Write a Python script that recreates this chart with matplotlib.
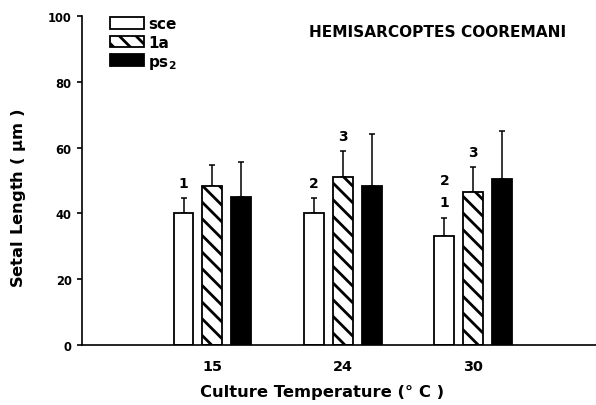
import numpy as np
import matplotlib
matplotlib.use("Agg")
import matplotlib.pyplot as plt

plt.rcParams["font.family"] = "DejaVu Sans"
plt.rcParams["font.weight"] = "bold"
plt.rcParams["mathtext.default"] = "bf"
plt.rcParams["hatch.linewidth"] = 2.0

# values (setal length, um)
temps = ["15", "24", "30"]
sce_mean = [40.0, 40.2, 33.2]
sce_err = [4.6, 4.4, 5.5]
la_mean = [48.4, 51.0, 46.4]
la_err = [6.4, 7.9, 7.6]
ps2_mean = [45.0, 48.2, 50.6]
ps2_err = [10.7, 16.0, 14.5]

# significance marks above each bar (listed bottom to top)
sce_marks = [["1"], ["2"], ["1", "2"]]
la_marks = [[], ["3"], ["3"]]
ps2_marks = [[], [], []]

x = np.arange(len(temps))
w = 0.153
off = 0.222

fig = plt.figure(figsize=(5.96, 4.06), dpi=100)
ax = fig.add_axes([0.1376, 0.1478, 0.8624, 0.8103])

series = [
    (sce_mean, sce_err, sce_marks, "white", "", "sce"),
    (la_mean, la_err, la_marks, "white", "\\\\", "1a"),
    (ps2_mean, ps2_err, ps2_marks, "black", "", "ps$_2$"),
]

handles = []
for i, (mean, err, marks, fc, hatch, lab) in enumerate(series):
    xs = x + (i - 1) * off
    b = ax.bar(xs, mean, width=w, color=fc, edgecolor="black",
               linewidth=1.3, hatch=hatch, label=lab, zorder=2)
    handles.append(b)
    ax.errorbar(xs, mean, yerr=[np.zeros(len(mean)), err], fmt="none",
                ecolor="black", elinewidth=1.1, capsize=2.2, capthick=1.1,
                zorder=1)
    for xi, m, e, mk in zip(xs, mean, err, marks):
        for k, s in enumerate(mk):
            ax.text(xi, m + e + 3.4 + k * 6.7, s, ha="center", va="baseline",
                    fontsize=10, fontweight="bold")

ax.set_ylim(0, 100)
ax.set_xlim(-1.0, 2.94)
ax.set_yticks([0, 20, 40, 60, 80, 100])
ax.set_xticks(x)
ax.set_xticklabels(temps, fontsize=10.4, fontweight="bold")
ax.tick_params(axis="x", length=0, pad=10)
ax.tick_params(axis="y", length=3.5, width=1.2, pad=4, labelsize=8.3)
for lbl in ax.get_yticklabels():
    lbl.set_fontweight("bold")

ax.spines["top"].set_visible(False)
ax.spines["right"].set_visible(False)
ax.spines["left"].set_linewidth(1.2)
ax.spines["bottom"].set_linewidth(1.2)

ax.set_xlabel("Culture Temperature (° C )", fontsize=11.8, fontweight="bold")
ax.xaxis.set_label_coords(0.467, -0.12)
ax.set_ylabel("Setal Length ( $\\mu$m )", fontsize=11.8, fontweight="bold")
ax.yaxis.set_label_coords(-0.105, 0.45)

ax.text(0.4416, 0.954, "HEMISARCOPTES COOREMANI", transform=ax.transAxes,
        ha="left", va="center", fontsize=11.1, fontweight="bold")

leg = ax.legend(handles=handles, loc="upper left", bbox_to_anchor=(0.055, 1.0),
                frameon=False, fontsize=11, handlelength=2.2, handleheight=0.8,
                handletextpad=0.3, labelspacing=0.25, borderpad=0,
                borderaxespad=0)
for t in leg.get_texts():
    t.set_fontweight("bold")

fig.savefig("out.png", dpi=100)
